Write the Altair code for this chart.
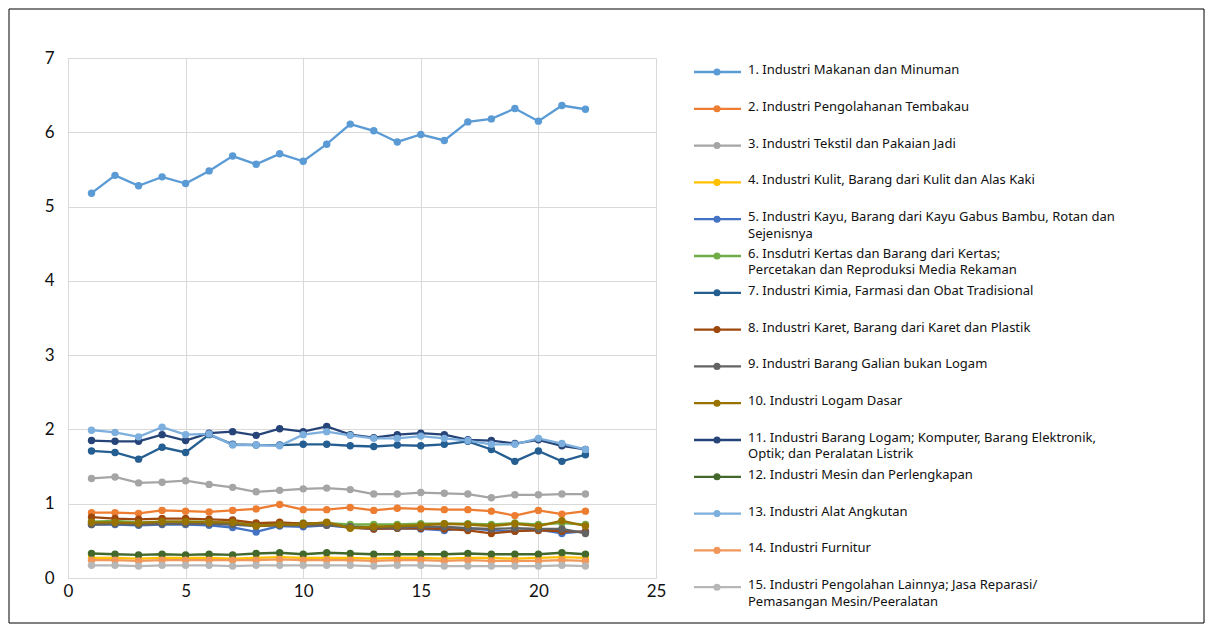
import altair as alt
import pandas as pd

x_vals = list(range(1, 23))

names = [
    "1. Industri Makanan dan Minuman",
    "2. Industri Pengolahanan Tembakau",
    "3. Industri Tekstil dan Pakaian Jadi",
    "4. Industri Kulit, Barang dari Kulit dan Alas Kaki",
    "5. Industri Kayu, Barang dari Kayu Gabus Bambu, Rotan dan\nSejenisnya",
    "6. Insdutri Kertas dan Barang dari Kertas;\nPercetakan dan Reproduksi Media Rekaman",
    "7. Industri Kimia, Farmasi dan Obat Tradisional",
    "8. Industri Karet, Barang dari Karet dan Plastik",
    "9. Industri Barang Galian bukan Logam",
    "10. Industri Logam Dasar",
    "11. Industri Barang Logam; Komputer, Barang Elektronik,\nOptik; dan Peralatan Listrik",
    "12. Industri Mesin dan Perlengkapan",
    "13. Industri Alat Angkutan",
    "14. Industri Furnitur",
    "15. Industri Pengolahan Lainnya; Jasa Reparasi/\nPemasangan Mesin/Peeralatan",
]

colors = ["#5B9BD5", "#ED7D31", "#A5A5A5", "#FFC000", "#4472C4", "#70AD47",
          "#255E91", "#9E480E", "#636363", "#997300", "#264478", "#43682B",
          "#7CAFDD", "#F1975A", "#B7B7B7"]

s1 = [5.18, 5.42, 5.28, 5.40, 5.31, 5.48, 5.68, 5.57, 5.71, 5.61, 5.84, 6.11, 6.02, 5.87, 5.97, 5.89, 6.14, 6.18, 6.32, 6.15, 6.36, 6.31]
s2 = [0.88, 0.88, 0.87, 0.91, 0.90, 0.89, 0.91, 0.93, 0.99, 0.92, 0.92, 0.95, 0.91, 0.94, 0.93, 0.92, 0.92, 0.90, 0.84, 0.91, 0.86, 0.90]
s3 = [1.34, 1.36, 1.28, 1.29, 1.31, 1.26, 1.22, 1.16, 1.18, 1.20, 1.21, 1.19, 1.13, 1.13, 1.15, 1.14, 1.13, 1.08, 1.12, 1.12, 1.13, 1.13]
s4 = [0.27, 0.27, 0.26, 0.27, 0.27, 0.27, 0.26, 0.27, 0.28, 0.27, 0.27, 0.27, 0.26, 0.27, 0.27, 0.26, 0.27, 0.27, 0.26, 0.27, 0.28, 0.27]
s5 = [0.72, 0.72, 0.71, 0.72, 0.72, 0.71, 0.68, 0.62, 0.70, 0.69, 0.71, 0.68, 0.66, 0.67, 0.66, 0.64, 0.67, 0.64, 0.63, 0.65, 0.60, 0.63]
s6 = [0.76, 0.77, 0.75, 0.76, 0.76, 0.76, 0.74, 0.73, 0.74, 0.74, 0.74, 0.72, 0.72, 0.72, 0.73, 0.73, 0.73, 0.72, 0.74, 0.72, 0.74, 0.72]
s7 = [1.71, 1.69, 1.60, 1.76, 1.69, 1.93, 1.80, 1.79, 1.79, 1.80, 1.80, 1.78, 1.77, 1.79, 1.78, 1.80, 1.84, 1.73, 1.57, 1.71, 1.57, 1.66]
s8 = [0.82, 0.80, 0.79, 0.80, 0.80, 0.79, 0.78, 0.74, 0.75, 0.73, 0.74, 0.68, 0.66, 0.67, 0.67, 0.66, 0.64, 0.60, 0.63, 0.64, 0.63, 0.62]
s9 = [0.72, 0.73, 0.72, 0.73, 0.73, 0.73, 0.72, 0.70, 0.71, 0.71, 0.71, 0.69, 0.68, 0.68, 0.69, 0.69, 0.67, 0.66, 0.67, 0.66, 0.66, 0.60]
s10 = [0.75, 0.75, 0.74, 0.76, 0.76, 0.75, 0.75, 0.70, 0.72, 0.72, 0.75, 0.67, 0.69, 0.70, 0.71, 0.73, 0.72, 0.70, 0.73, 0.70, 0.77, 0.70]
s11 = [1.85, 1.84, 1.84, 1.93, 1.85, 1.95, 1.97, 1.92, 2.01, 1.97, 2.04, 1.93, 1.89, 1.93, 1.95, 1.93, 1.86, 1.85, 1.81, 1.86, 1.78, 1.73]
s12 = [0.33, 0.32, 0.31, 0.32, 0.31, 0.32, 0.31, 0.33, 0.34, 0.32, 0.34, 0.33, 0.32, 0.32, 0.32, 0.32, 0.33, 0.32, 0.32, 0.32, 0.34, 0.32]
s13 = [1.99, 1.96, 1.90, 2.03, 1.93, 1.94, 1.79, 1.79, 1.78, 1.93, 1.97, 1.92, 1.88, 1.88, 1.91, 1.88, 1.85, 1.80, 1.80, 1.88, 1.81, 1.73]
s14 = [0.24, 0.24, 0.23, 0.24, 0.24, 0.24, 0.24, 0.24, 0.25, 0.24, 0.24, 0.24, 0.23, 0.24, 0.24, 0.23, 0.24, 0.23, 0.23, 0.23, 0.24, 0.23]
s15 = [0.17, 0.17, 0.16, 0.17, 0.17, 0.17, 0.16, 0.17, 0.17, 0.17, 0.17, 0.17, 0.16, 0.17, 0.17, 0.16, 0.16, 0.16, 0.16, 0.16, 0.17, 0.16]

series = [s1, s2, s3, s4, s5, s6, s7, s8, s9, s10, s11, s12, s13, s14, s15]

rows = []
for name, vals in zip(names, series):
    for xv, v in zip(x_vals, vals):
        rows.append({"series": name, "x": xv, "value": v})
df = pd.DataFrame(rows)

leg = pd.DataFrame({"series": names, "idx": list(range(1, 16)), "label": names})

FONT_AX = "Lato"
FONT_LEG = "Noto Sans"

color = alt.Color("series:N", scale=alt.Scale(domain=names, range=colors), legend=None)

xenc = alt.X("x:Q", scale=alt.Scale(domain=[0, 25], nice=False),
             axis=alt.Axis(values=[0, 5, 10, 15, 20, 25], title=None, grid=True,
                           gridColor="#d9d9d9", domainColor="#d9d9d9", ticks=False,
                           labelFont=FONT_AX, labelFontSize=17, labelColor="#111",
                           labelPadding=5, labelFlush=False))
yenc = alt.Y("value:Q", scale=alt.Scale(domain=[0, 7], nice=False),
             axis=alt.Axis(values=[0, 1, 2, 3, 4, 5, 6, 7], title=None, grid=True,
                           gridColor="#d9d9d9", domainColor="#d9d9d9", ticks=False,
                           labelFont=FONT_AX, labelFontSize=17, labelColor="#111",
                           labelPadding=14, labelFlush=False))

base = alt.Chart(df)
lines = base.mark_line(strokeWidth=2.3).encode(x=xenc, y=yenc, color=color, detail="series:N")
pts = base.mark_circle(size=55, opacity=1).encode(x=xenc, y=yenc, color=color)
main = alt.layer(lines, pts)

ly = alt.Y("idx:Q", scale=alt.Scale(domain=[0.62, 14.75], reverse=True, nice=False, zero=False), axis=None)
lb = alt.Chart(leg)
leg_rule = lb.mark_rule(strokeWidth=2.3).encode(x=alt.value(626), x2=alt.value(673), y=ly, color=color)
leg_pt = lb.mark_circle(size=50, opacity=1).encode(x=alt.value(649), y=ly, color=color)
leg_txt = lb.mark_text(align="left", baseline="top", dy=-8, font=FONT_LEG, fontSize=13,
                       lineBreak="\n", lineHeight=16.5, color="#111").encode(
    x=alt.value(680), y=ly, text="label:N")
legend = alt.layer(leg_rule, leg_pt, leg_txt)

frame = alt.Chart(pd.DataFrame({"a": [0]})).mark_rect(fill="transparent", stroke="#000", strokeWidth=1).encode(
    x=alt.value(-59), x2=alt.value(1136), y=alt.value(-49), y2=alt.value(565))

chart = alt.layer(frame, main, legend).resolve_scale(y="independent").properties(
    width=588, height=520, padding={"left": 8, "top": 8, "right": 0, "bottom": 0},
    background="white"
).configure_view(stroke=None)

chart.save("out.html", embed_options={"renderer": "svg", "actions": False})
